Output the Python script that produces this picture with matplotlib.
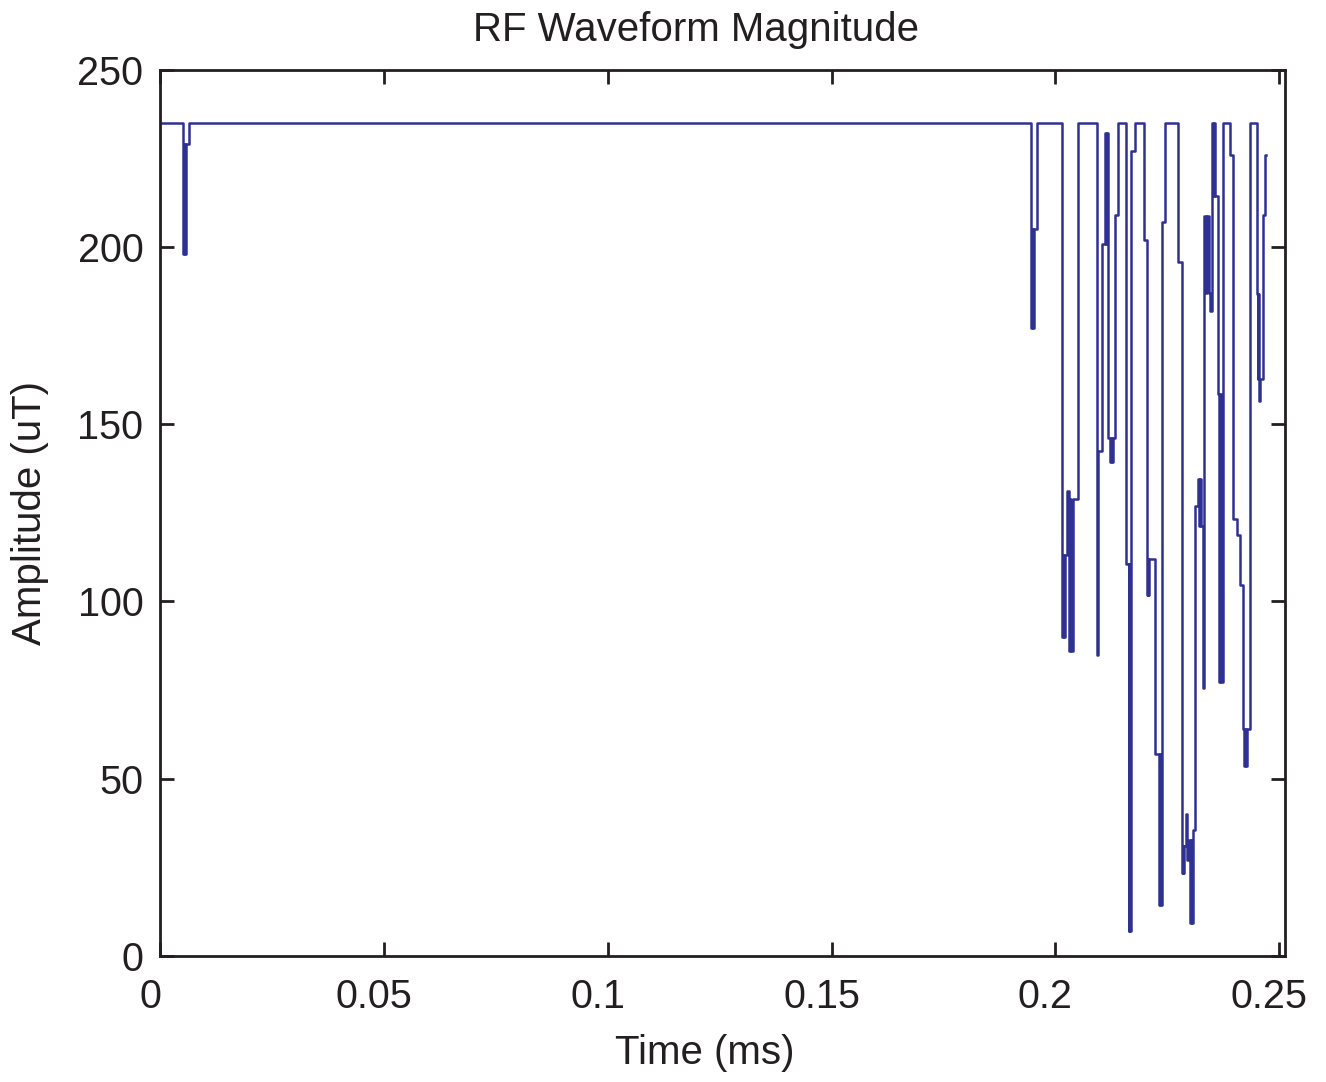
import numpy as np
import matplotlib
matplotlib.use("Agg")
import matplotlib.pyplot as plt
import matplotlib.transforms as mtransforms

plt.rcParams['font.family'] = ['Liberation Sans', 'DejaVu Sans']

# step edges of the RF magnitude (time in ms, amplitude in uT held until next edge)
edge_times = [
    0.0, 0.00502, 0.00525, 0.00547, 0.00580, 0.00636,
    0.19457, 0.19480, 0.19497, 0.19524, 0.19584,
    0.20156, 0.20178, 0.20194, 0.20216, 0.20254, 0.20306, 0.20328, 0.20350, 0.20384, 0.20496,
    0.20924, 0.20937, 0.20953, 0.21036, 0.21098, 0.21121, 0.21143, 0.21165,
    0.21183, 0.21210, 0.21232, 0.21255, 0.21288, 0.21339, 0.21395,
    0.21567, 0.21634, 0.21652, 0.21668, 0.21690, 0.21779,
    0.21980, 0.22041, 0.22058, 0.22076, 0.22099, 0.22226,
    0.22315, 0.22338, 0.22356, 0.22376, 0.22449, 0.22746,
    0.22818, 0.22840, 0.22858, 0.22880, 0.22918, 0.22947, 0.22974,
    0.23007, 0.23030, 0.23052, 0.23081, 0.23130,
    0.23193, 0.23215, 0.23237, 0.23260, 0.23304, 0.23331,
    0.23365, 0.23394, 0.23425, 0.23465, 0.23492, 0.23517, 0.23539, 0.23561,
    0.23639, 0.23662, 0.23684, 0.23700, 0.23751, 0.23900,
    0.23974, 0.24050, 0.24123, 0.24197, 0.24219, 0.24242, 0.24264, 0.24280,
    0.24347, 0.24497, 0.24519, 0.24537, 0.24555, 0.24570, 0.24644, 0.24682,
]
edge_values = [
    235, 198, 229, 198, 229, 235,
    177, 205, 177, 205, 235,
    90, 113, 90, 113, 131, 86, 129, 86, 129, 235,
    98.5, 84.8, 142.5, 200.7, 232, 200.7, 232, 200.7,
    146, 139.4, 146, 139.4, 146, 209, 235,
    110.6, 7, 110.6, 7, 227, 235,
    202, 101.7, 112, 101.7, 112, 57,
    14.4, 57, 14.4, 207, 235, 195.7,
    23.4, 31, 23.4, 31, 40, 27, 32.7,
    9.3, 32.7, 9.3, 35.6, 127,
    134.6, 121.4, 134.6, 121.4, 75.5, 208.7,
    187, 208.7, 187, 182, 235, 214.4, 235, 214.4,
    158.5, 77.4, 158.5, 77.4, 235, 226,
    123.3, 118.6, 104.5, 64, 53.5, 64, 53.5, 64,
    235, 186.7, 162.7, 186.7, 156.6, 162.7, 209, 226,
]
end_time = 0.24704

x_ticks = [0, 0.05, 0.1, 0.15, 0.2, 0.25]
x_tick_labels = ["0", "0.05", "0.1", "0.15", "0.2", "0.25"]
y_ticks = [0, 50, 100, 150, 200, 250]

ink = '#231f20'

t = np.array(edge_times + [end_time])
v = np.array(edge_values + [edge_values[-1]])

fig = plt.figure(figsize=(13.26, 10.82), dpi=100)
ax = fig.add_axes([0.1207, 0.1165, 0.8484, 0.8192])

ax.step(t, v, where='post', color='#2e3192', linewidth=1.8)

ax.set_xlim(0, 0.2513)
ax.set_ylim(0, 250)
ax.set_xticks(x_ticks)
ax.set_xticklabels(x_tick_labels)
ax.set_yticks(y_ticks)

ax.tick_params(direction='in', length=10, width=2, top=True, right=True,
               labelsize=28.5, colors=ink)
ax.tick_params(axis='x', pad=16)
ax.tick_params(axis='y', pad=12)
for s in ax.spines.values():
    s.set_linewidth(2)
    s.set_color(ink)

# labels in the original sit a bit left of their ticks
shift = mtransforms.ScaledTranslation(-0.10, 0, fig.dpi_scale_trans)
for lab in ax.get_xticklabels():
    lab.set_transform(lab.get_transform() + shift)

ax.text(0.476, 1.045, "RF Waveform Magnitude", transform=ax.transAxes,
        ha='center', va='center', fontsize=29, color=ink)
ax.set_xlabel("Time (ms)", fontsize=29, color=ink)
ax.xaxis.set_label_coords(0.484, -0.1095)
ax.xaxis.label.set_va('center')
ax.set_ylabel("Amplitude (uT)", fontsize=29, color=ink)
ax.yaxis.set_label_coords(-0.1156, 0.5)
ax.yaxis.label.set_va('center')

plt.savefig("out.png", dpi=100)
